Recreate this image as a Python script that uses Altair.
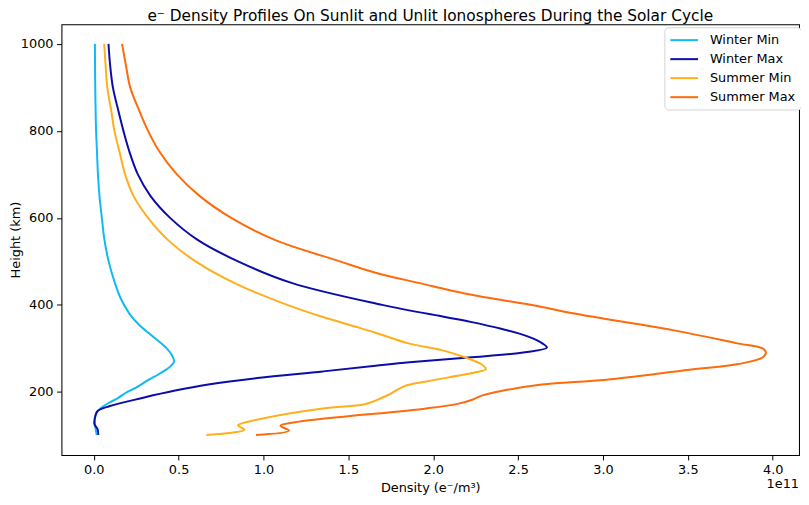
import altair as alt
import pandas as pd

series_names = ["Winter Min", "Winter Max", "Summer Min", "Summer Max"]
series_colors = ["#0FB9F5", "#0C0CA8", "#FFAE1C", "#FF6A0A"]

# heights in km, densities in units of 1e11 e-/m^3
winter_min_h = [1000, 900, 800, 755, 700, 650, 600, 550, 500, 450, 414, 380, 353, 330, 300, 285, 270, 262, 255, 240, 228, 210, 198, 185, 175, 165, 156, 148, 141, 130, 118, 101]
winter_min_d = [0.007, 0.009, 0.014, 0.019, 0.025, 0.034, 0.048, 0.063, 0.088, 0.125, 0.16, 0.21, 0.27, 0.34, 0.43, 0.46, 0.474, 0.46, 0.44, 0.38, 0.325, 0.25, 0.189, 0.14, 0.09, 0.05, 0.023, 0.012, 0.008, 0.007, 0.010, 0.018]

winter_max_h = [1000, 950, 900, 845, 800, 755, 700, 650, 600, 550, 500, 450, 400, 372, 361, 345, 327, 311, 302, 291, 279, 268, 260, 247, 232, 217, 203, 186, 167, 156, 145, 126, 114, 101]
winter_max_d = [0.087, 0.097, 0.113, 0.146, 0.175, 0.208, 0.26, 0.335, 0.45, 0.61, 0.85, 1.17, 1.70, 2.07, 2.22, 2.40, 2.56, 2.645, 2.67, 2.54, 2.21, 1.86, 1.66, 1.35, 0.965, 0.675, 0.48, 0.286, 0.091, 0.023, 0.01, 0.004, 0.023, 0.027]

summer_min_h = [1000, 950, 900, 845, 800, 755, 700, 650, 600, 550, 500, 450, 400, 372, 349, 336, 311, 296, 279, 262, 252, 245, 224, 213, 194, 180, 171, 162, 133, 123, 113, 101]
summer_min_d = [0.062, 0.07, 0.08, 0.104, 0.122, 0.15, 0.185, 0.235, 0.32, 0.435, 0.60, 0.83, 1.14, 1.35, 1.55, 1.66, 1.86, 2.05, 2.19, 2.29, 2.31, 2.25, 1.96, 1.83, 1.74, 1.66, 1.59, 1.35, 0.927, 0.85, 0.888, 0.664]

summer_max_h = [1000, 950, 900, 845, 800, 755, 700, 650, 600, 550, 500, 474, 450, 425, 397, 380, 342, 311, 300, 290, 279, 264, 251, 228, 217, 202, 192, 182, 173, 162, 131, 122, 111, 101]
summer_max_d = [0.167, 0.19, 0.215, 0.27, 0.32, 0.383, 0.49, 0.625, 0.81, 1.063, 1.45, 1.66, 1.92, 2.2, 2.62, 2.83, 3.41, 3.80, 3.94, 3.96, 3.94, 3.80, 3.51, 3.02, 2.64, 2.40, 2.29, 2.23, 2.15, 1.96, 1.20, 1.10, 1.15, 0.956]

x_ticks = [0.0, 0.5, 1.0, 1.5, 2.0, 2.5, 3.0, 3.5, 4.0]
y_ticks = [200, 400, 600, 800, 1000]

rows = []
for name, hs, ds in [
    ("Winter Min", winter_min_h, winter_min_d),
    ("Winter Max", winter_max_h, winter_max_d),
    ("Summer Min", summer_min_h, summer_min_d),
    ("Summer Max", summer_max_h, summer_max_d),
]:
    for h, d in zip(hs, ds):
        rows.append({"series": name, "height": h, "density": d})
df = pd.DataFrame(rows)

FONT = "DejaVu Sans"

lines = alt.Chart(df).mark_line(strokeWidth=2, interpolate="catmull-rom").encode(
    x=alt.X("density:Q",
            scale=alt.Scale(domain=[-0.19, 4.155], nice=False, zero=False),
            axis=alt.Axis(values=x_ticks, format=".1f", title="Density (e⁻/m³)",
                          titlePadding=5)),
    y=alt.Y("height:Q",
            scale=alt.Scale(domain=[55, 1045], nice=False, zero=False),
            axis=alt.Axis(values=y_ticks, format="d", title="Height (km)", titleX=-42,
                          titleBaseline="alphabetic")),
    color=alt.Color("series:N",
                    scale=alt.Scale(domain=series_names, range=series_colors),
                    legend=alt.Legend(title=None, orient="none", legendX=609, legendY=3,
                                      symbolType="M-1,0H3", symbolSize=196,
                                      symbolStrokeWidth=2, labelOffset=25,
                                      rowPadding=4.2, padding=5,
                                      fillColor="white", strokeColor="#d5d5d5",
                                      cornerRadius=4, labelFontSize=13,
                                      labelFont=FONT, labelColor="black")),
    order=alt.Order("height:Q"),
)

offset_text = alt.Chart(pd.DataFrame({"t": ["1e11"]})).mark_text(
    align="right", baseline="middle", fontSize=13, font=FONT, color="black"
).encode(x=alt.value(745), y=alt.value(464), text="t:N")

chart = alt.layer(lines, offset_text).properties(
    width=745, height=435,
    autosize=alt.AutoSizeParams(type="none"),
    padding={"left": 54, "top": 14, "right": 2, "bottom": 40},
    title=alt.TitleParams(
        "e⁻  Density Profiles On Sunlit and Unlit Ionospheres During the Solar Cycle",
        fontSize=15.5, font=FONT, fontWeight="normal", color="black",
        anchor="middle", frame="group", offset=-12, baseline="alphabetic"),
).configure_view(
    stroke="black", strokeWidth=1.05
).configure_axis(
    grid=False, domain=False, tickColor="black", tickSize=5, tickWidth=1,
    labelFont=FONT, labelFontSize=13, labelColor="black", labelPadding=3.5,
    titleFont=FONT, titleFontSize=13, titleFontWeight="normal", titleColor="black",
)

chart.save("out.html", embed_options={"renderer": "svg", "actions": False})
